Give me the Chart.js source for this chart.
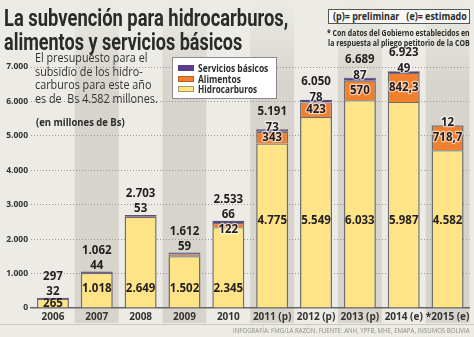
<!DOCTYPE html>
<html lang="es">
<head>
<meta charset="utf-8">
<script src="https://cdn.jsdelivr.net/npm/chart.js@4.4.1/dist/chart.umd.min.js"></script>
<style>
  html, body { margin: 0; padding: 0; background: #ecebe6; }
  #wrap { position: relative; width: 474px; height: 337px; overflow: hidden; font-family: 'Open Sans', sans-serif; color: #2b2b2b; }
  #grafico { position: absolute; left: 0; top: 0; }
  .txt { position: absolute; white-space: pre; transform-origin: 0 50%; }
  .der { transform-origin: 100% 50%; text-align: right; }
  .titulo { font-family: Roboto, sans-serif; font-weight: 700; font-size: 24px; line-height: 24px; color: #2a2a2a; left: 4px; }
  #parrafo { left: 35px; top: 51px; font-size: 13.5px; line-height: 13.5px; color: #333; }
  #unidad { left: 36px; top: 115px; font-size: 10px; line-height: 14px; font-weight: 700; }
  #claves { left: 328px; top: 9px; width: 140px; height: 13px; border: 1px solid #555; background: #f7f7f3; }
  #claves span { position: absolute; left: 4px; top: 0; font-size: 10px; line-height: 13px; font-weight: 700; white-space: pre; transform-origin: 0 50%; }
  #nota { right: 4px; top: 28px; font-size: 9px; line-height: 9.5px; font-weight: 700; }
  #leyenda { position: absolute; left: 172px; top: 57px; width: 103px; height: 40px; background: #fff; border: 1px solid #8a8a8a; }
  #leyenda .fila { position: absolute; left: 5px; height: 10px; }
  #leyenda i { position: absolute; left: 0; top: 2px; width: 16px; height: 6px; box-sizing: border-box; }
  #leyenda span { position: absolute; left: 20px; top: -2px; font-size: 10px; line-height: 14px; font-weight: 700; white-space: pre; transform-origin: 0 50%; }
  #pie { right: 4px; top: 326px; font-size: 7px; line-height: 10px; color: #8c8b86; }
  #raya { position: absolute; left: 0; top: 324px; width: 474px; height: 0; border-top: 1px solid #c9c7c0; }
</style>
</head>
<body>
<div id="wrap">
  <canvas id="grafico" width="474" height="337"></canvas>
  <div class="txt titulo" style="top:6px" data-w="284">La subvención para hidrocarburos,</div>
  <div class="txt titulo" style="top:30px" data-w="238">alimentos y servicios básicos</div>
  <div class="txt" id="parrafo" data-w="123">El presupuesto para el
subsidio de los hidro-
carburos para este año
es de  Bs 4.582 millones.</div>
  <div class="txt" id="unidad" data-w="89">(en millones de Bs)</div>
  <div class="txt" id="claves" style="transform:none"><span data-w="134">(p)= preliminar   (e)= estimado</span></div>
  <div class="txt der" id="nota" data-w="143">* Con datos del Gobierno establecidos en
la respuesta al pliego petitorio de la COB</div>
  <div id="leyenda">
    <div class="fila" style="top:5px"><i style="background:#5b3d8e"></i><span data-w="70">Servicios básicos</span></div>
    <div class="fila" style="top:15.5px"><i style="background:#f0802d;border:1px solid #b8601f"></i><span data-w="43">Alimentos</span></div>
    <div class="fila" style="top:26px"><i style="background:#fee487;border:1px solid #a89a5a"></i><span data-w="59">Hidrocarburos</span></div>
  </div>
  <div id="raya"></div>
  <div class="txt der" id="pie" data-w="237">INFOGRAFÍA: FMG/LA RAZÓN. FUENTE: ANH, YPFB, MHE, EMAPA, INSUMOS BOLIVIA</div>
</div>
<script>
// millones de Bs por año
var categorias = ['2006', '2007', '2008', '2009', '2010', '2011 (p)', '2012 (p)', '2013 (p)', '2014 (e)', '*2015 (e)'];
var hidrocarburos = [265, 1018, 2649, 1502, 2345, 4775, 5549, 6033, 5987, 4582];
var alimentos = [0, 0, 0, 51, 122, 343, 423, 570, 842.3, 718.7];
var servicios = [32, 44, 53, 59, 66, 73, 78, 87, 49, 12];
var totales = [297, 1062, 2703, 1612, 2533, 5191, 6050, 6689, 6923, null];
var ticksY = [0, 1000, 2000, 3000, 4000, 5000, 6000, 7000];

function fmt(v) {
    var partes = String(v).split('.');
    var ent = partes[0].replace(/\B(?=(\d{3})+(?!\d))/g, '.');
    return partes.length > 1 ? ent + ',' + partes[1] : ent;
}

// comprime los textos al ancho que les toca
function ajustar() {
    document.querySelectorAll('[data-w]').forEach(function(el) {
        var w = el.offsetWidth;
        if (w > 0) el.style.transform = 'scaleX(' + (parseFloat(el.dataset.w) / w) + ')';
    });
}

// franjas grises detrás de los años impares
var franjas = {
    id: 'franjas',
    beforeDraw: function(chart) {
        var c = chart.ctx, x = chart.scales.x;
        var ancho = x.width / categorias.length;
        var g = c.createLinearGradient(0, 0, 0, 85);
        g.addColorStop(0, 'rgba(214,212,204,0)');
        g.addColorStop(1, 'rgba(214,212,204,1)');
        c.save();
        c.fillStyle = g;
        for (var i = 1; i < categorias.length; i += 2) {
            var cx = x.getPixelForValue(i);
            c.fillRect(cx - ancho / 2, 0, ancho, 323);
        }
        c.restore();
    }
};

// cifras sobre y dentro de las barras
var etiquetas = {
    id: 'etiquetas',
    afterDatasetsDraw: function(chart) {
        var c = chart.ctx, y = chart.scales.y, x = chart.scales.x;
        c.save();
        c.textAlign = 'center';
        c.textBaseline = 'middle';
        c.font = 'bold 11.5px "Open Sans"';
        function texto(s, px, py, halo) {
            if (halo) {
                c.lineWidth = 2.5;
                c.lineJoin = 'round';
                c.strokeStyle = 'rgba(255,255,255,0.6)';
                c.strokeText(s, px, py);
            }
            c.fillStyle = '#231f20';
            c.fillText(s, px, py);
        }
        for (var i = 0; i < categorias.length; i++) {
            var cx = x.getPixelForValue(i);
            var h = hidrocarburos[i];
            var tope = y.getPixelForValue(h + alimentos[i] + servicios[i]);
            var grande = h > 4000;
            var yh = h < 1000 ? y.getPixelForValue(h / 2) : y.getPixelForValue(grande ? 2530 : 550);
            texto(fmt(h), cx, yh, false);
            if (alimentos[i] >= 100) {
                var a0 = y.getPixelForValue(h), a1 = y.getPixelForValue(h + alimentos[i]);
                var ya = (a0 - a1) >= 10 ? (a0 + a1) / 2 : tope + 9;
                texto(fmt(alimentos[i]), cx, ya, true);
            }
            texto(fmt(servicios[i]), cx, tope - (grande ? 2 : 6), grande);
            if (totales[i] != null) texto(fmt(totales[i]), cx, tope - (grande ? 18 : 21), false);
        }
        c.restore();
    }
};

var borde = { top: 1.2, left: 1.5, right: 1.5, bottom: 0 };
var fuenteEje = { family: 'Open Sans', weight: 'bold' };

var ctx = document.getElementById('grafico');
var chart = new Chart(ctx, {
    type: 'bar',
    data: {
        labels: categorias,
        datasets: [
            { label: 'Hidrocarburos', data: hidrocarburos, backgroundColor: '#fee487', borderColor: '#6e6e6e', borderWidth: borde, borderSkipped: false },
            { label: 'Alimentos', data: alimentos, backgroundColor: '#f0802d', borderColor: '#6e6e6e', borderWidth: borde, borderSkipped: false },
            { label: 'Servicios básicos', data: servicios, backgroundColor: '#5b3d8e', borderColor: '#5a5468', borderWidth: borde, borderSkipped: false }
        ]
    },
    options: {
        responsive: false,
        animation: false,
        layout: { padding: { top: 67, right: 4.5, left: 0, bottom: 0 } },
        plugins: { legend: { display: false }, tooltip: { enabled: false } },
        datasets: { bar: { barPercentage: 0.73, categoryPercentage: 1 } },
        scales: {
            x: {
                stacked: true,
                grid: { display: false, drawTicks: false },
                border: { color: '#666', width: 1.5 },
                ticks: { font: Object.assign({ size: 10 }, fuenteEje), color: '#333', padding: 3, maxRotation: 0, autoSkip: false },
                afterFit: function(s) { s.height = 29; }
            },
            y: {
                stacked: true,
                min: 0,
                max: 7000,
                afterBuildTicks: function(s) { s.ticks = ticksY.map(function(v) { return { value: v }; }); },
                ticks: { font: Object.assign({ size: 8.5 }, fuenteEje), color: '#333', padding: 3, callback: function(v) { return fmt(v); } },
                grid: { drawTicks: false, color: function(c) { return c.tick && c.tick.value === 0 ? 'rgba(0,0,0,0)' : '#9b9a95'; } },
                border: { display: false, dash: [1, 2] },
                afterFit: function(s) { s.width = 31; }
            }
        }
    },
    plugins: [franjas, etiquetas]
});

ajustar();
if (document.fonts && document.fonts.ready) document.fonts.ready.then(ajustar);
</script>
</body>
</html>
